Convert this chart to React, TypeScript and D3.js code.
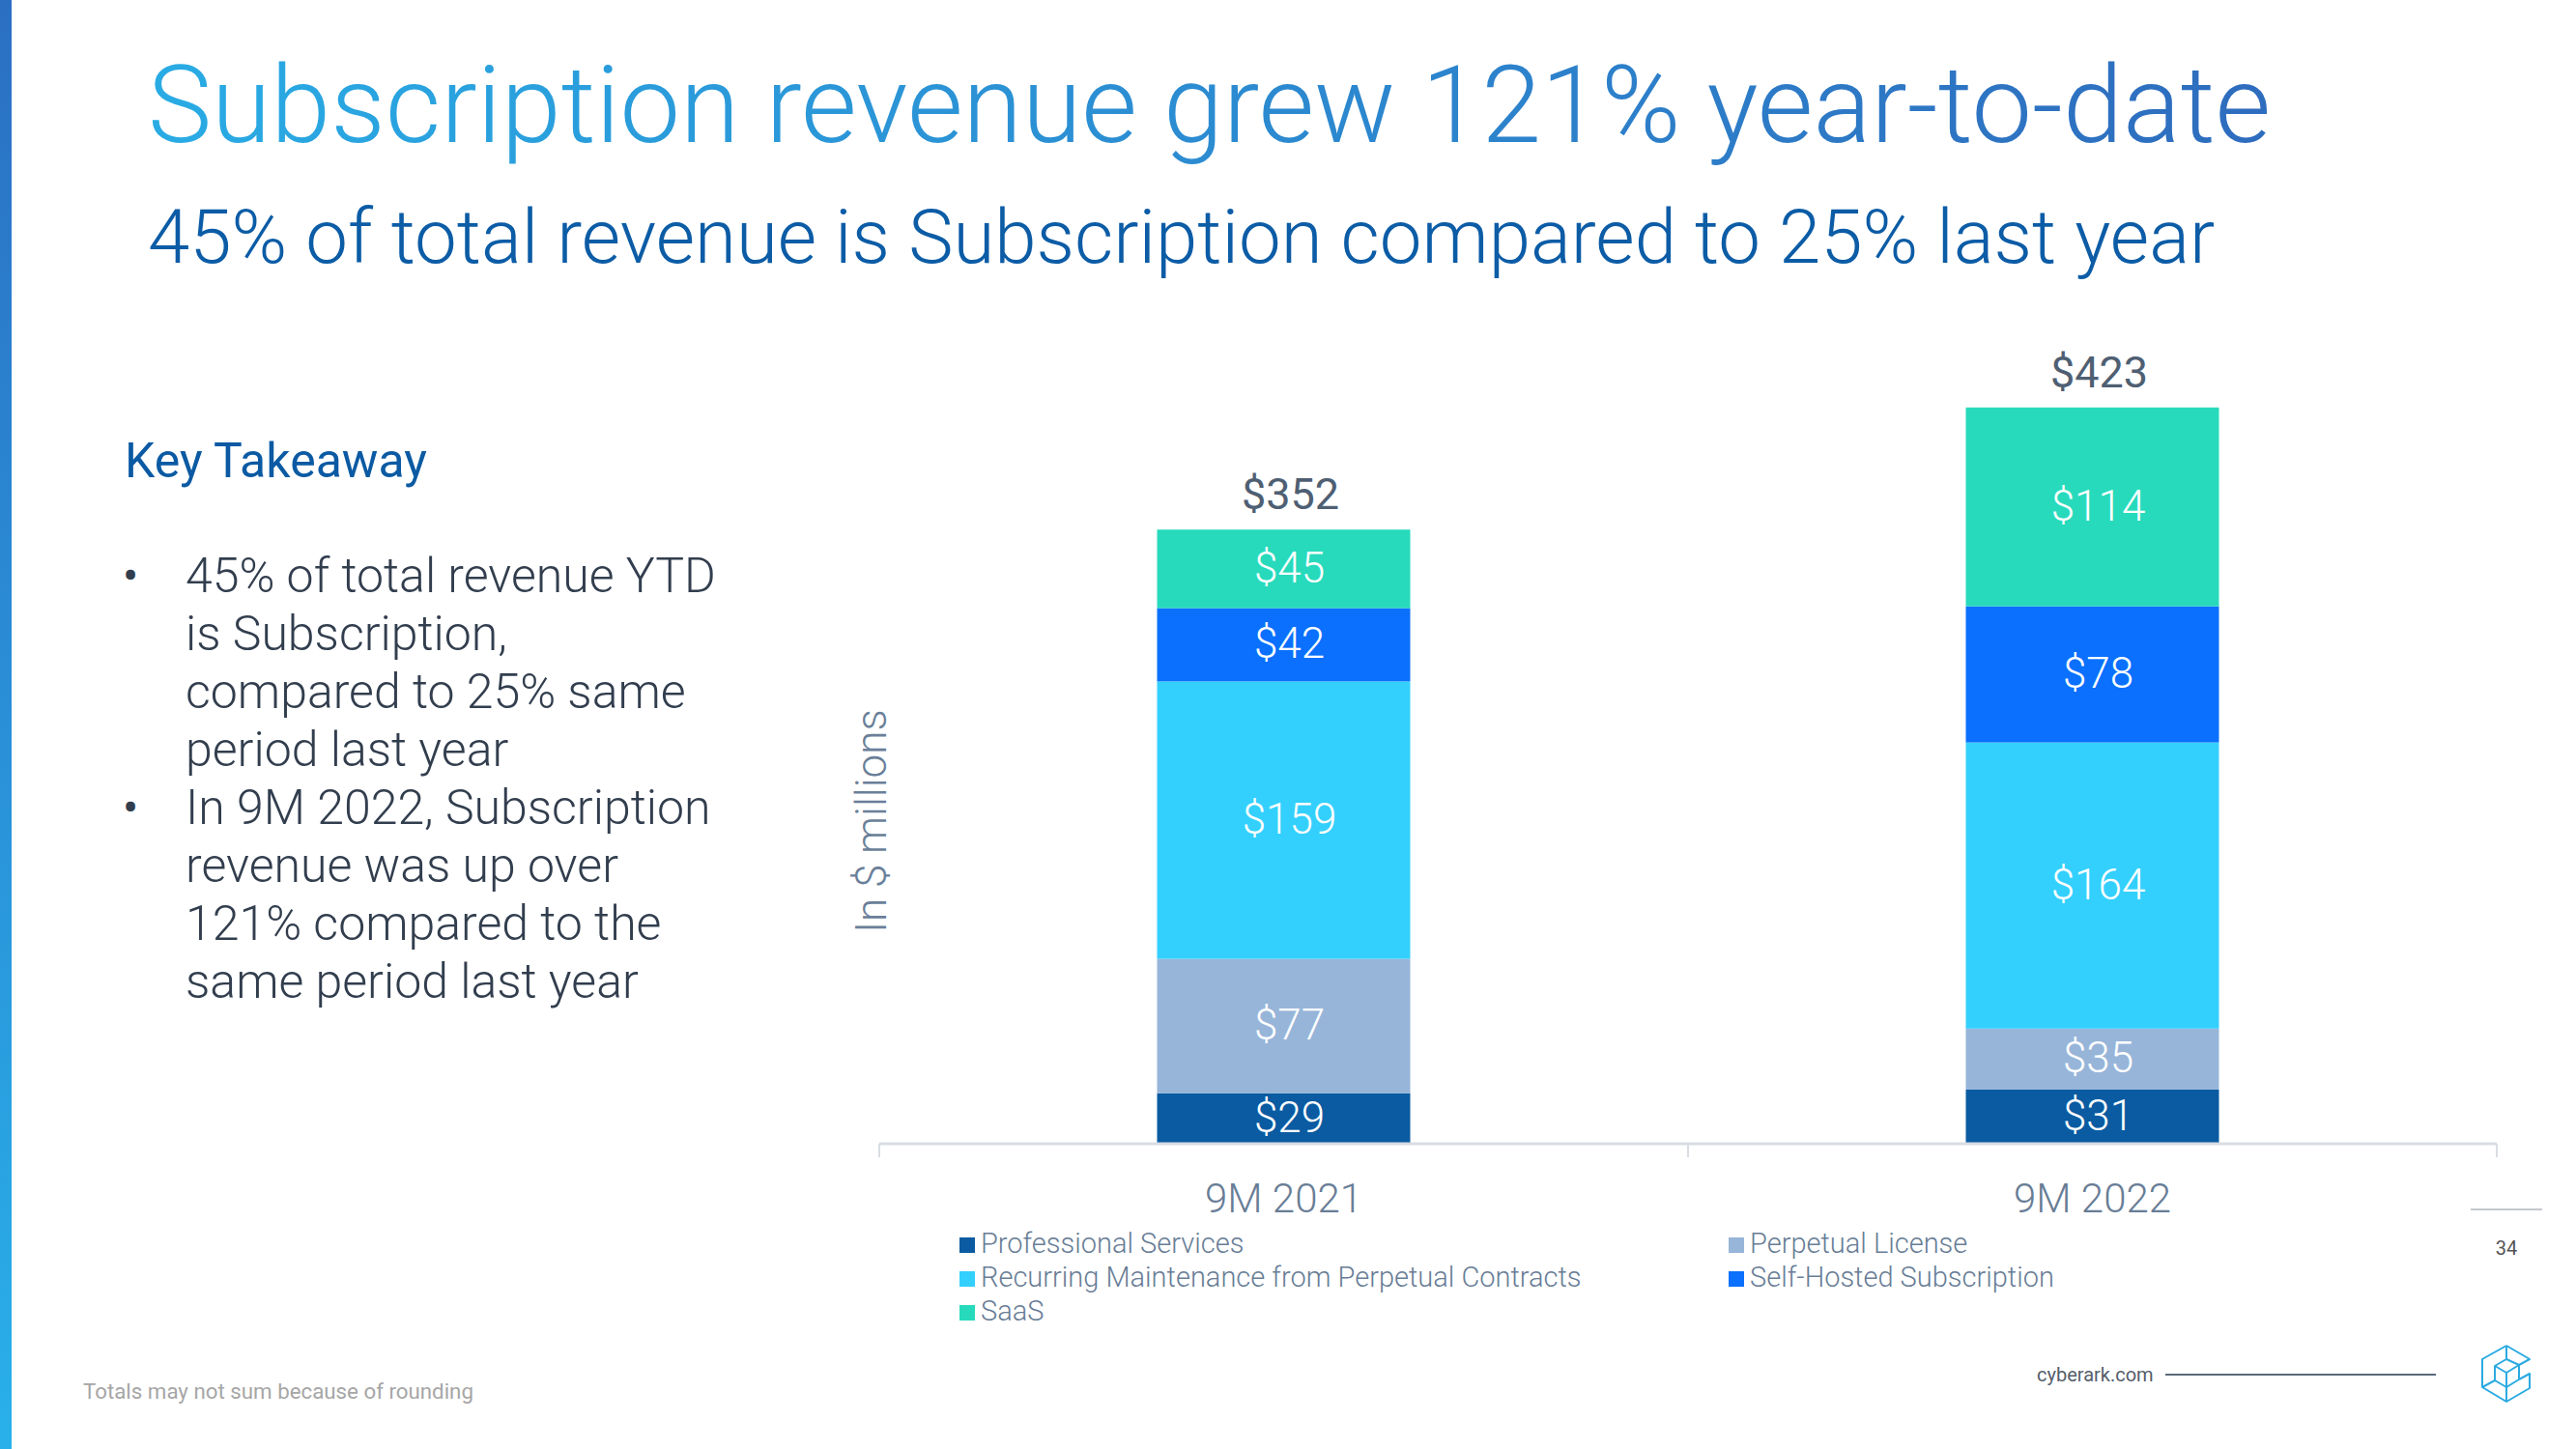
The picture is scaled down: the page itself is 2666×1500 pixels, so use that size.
import { useEffect, useRef } from "react";
import * as d3 from "d3";

const categories = ["9M 2021", "9M 2022"];
const seriesKeys = ["pro", "perp", "maint", "self", "saas"];
const seriesNames = [
  "Professional Services",
  "Perpetual License",
  "Recurring Maintenance from Perpetual Contracts",
  "Self-Hosted Subscription",
  "SaaS",
];
const seriesColors = ["#0a5ba1", "#97b5d9", "#33d0fd", "#0a70fd", "#27dabc"];
const professionalServices = [29, 31];
const perpetualLicense = [77, 35];
const recurringMaintenance = [159, 164];
const selfHostedSubscription = [42, 78];
const saas = [45, 114];
const totals = [352, 423];

const title = "Subscription revenue grew 121% year-to-date";
const subtitle = "45% of total revenue is Subscription compared to 25% last year";
const takeawayTitle = "Key Takeaway";
const bullets = [
  ["45% of total revenue YTD", "is Subscription,", "compared to 25% same", "period last year"],
  ["In 9M 2022, Subscription", "revenue was up over", "121% compared to the", "same period last year"],
];

const W = 2666;
const H = 1500;
const FONT = "Roboto, 'Noto Sans', sans-serif";

export default function App() {
  const ref = useRef<SVGSVGElement | null>(null);

  useEffect(() => {
    document.body.style.margin = "0";
    const svg = d3.select(ref.current);
    svg.selectAll("*").remove();
    svg.attr("width", W).attr("height", H).attr("viewBox", `0 0 ${W} ${H}`);

    const defs = svg.append("defs");
    const strip = defs
      .append("linearGradient")
      .attr("id", "strip")
      .attr("x1", 0)
      .attr("y1", 0)
      .attr("x2", 0)
      .attr("y2", 1);
    strip.append("stop").attr("offset", 0).attr("stop-color", "#2b6fc3");
    strip.append("stop").attr("offset", 1).attr("stop-color", "#29b0ea");

    const tg = defs
      .append("linearGradient")
      .attr("id", "titleGrad")
      .attr("gradientUnits", "userSpaceOnUse")
      .attr("x1", 155)
      .attr("y1", 0)
      .attr("x2", 2350)
      .attr("y2", 0);
    tg.append("stop").attr("offset", 0).attr("stop-color", "#29abe4");
    tg.append("stop").attr("offset", 1).attr("stop-color", "#2e6cbe");

    svg.append("rect").attr("width", W).attr("height", H).attr("fill", "#fff");
    svg.append("rect").attr("width", 12).attr("height", H).attr("fill", "url(#strip)");

    // Headings
    svg
      .append("text")
      .attr("x", 153)
      .attr("y", 147)
      .attr("font-family", FONT)
      .attr("font-weight", 300)
      .attr("font-size", 111.5)
      .attr("fill", "url(#titleGrad)")
      .text(title);

    svg
      .append("text")
      .attr("x", 153)
      .attr("y", 272)
      .attr("font-family", FONT)
      .attr("font-weight", 300)
      .attr("font-size", 78)
      .attr("fill", "#0c5ca6")
      .text(subtitle);

    // Left panel
    svg
      .append("text")
      .attr("x", 129)
      .attr("y", 494)
      .attr("font-family", FONT)
      .attr("font-weight", 400)
      .attr("font-size", 50)
      .attr("fill", "#0b5aa3")
      .text(takeawayTitle);

    let line = 0;
    bullets.forEach((b) => {
      b.forEach((t, j) => {
        const yy = 613 + line * 60;
        if (j === 0) {
          svg
            .append("text")
            .attr("x", 127)
            .attr("y", yy)
            .attr("font-family", FONT)
            .attr("font-size", 48)
            .attr("fill", "#323e4e")
            .text("•");
        }
        svg
          .append("text")
          .attr("x", 192)
          .attr("y", yy)
          .attr("font-family", FONT)
          .attr("font-weight", 300)
          .attr("font-size", 50)
          .attr("fill", "#323e4e")
          .text(t);
        line++;
      });
    });

    // Chart
    const axisY = 1184;
    const x = d3
      .scaleBand<string>()
      .domain(categories)
      .range([910, 2584])
      .paddingInner(0)
      .paddingOuter(0);
    const barW = x.bandwidth() * 0.313;
    const y = d3
      .scaleLinear()
      .domain([0, d3.max(totals) as number])
      .range([axisY, 420]);

    const rows = categories.map((c, i) => ({
      cat: c,
      pro: professionalServices[i],
      perp: perpetualLicense[i],
      maint: recurringMaintenance[i],
      self: selfHostedSubscription[i],
      saas: saas[i],
    }));
    const stacked = d3.stack<any>().keys(seriesKeys)(rows);

    const g = svg.append("g");
    stacked.forEach((layer, li) => {
      layer.forEach((d) => {
        const cx = (x(d.data.cat) as number) + x.bandwidth() / 2;
        g.append("rect")
          .attr("x", cx - barW / 2)
          .attr("y", y(d[1]))
          .attr("width", barW)
          .attr("height", y(d[0]) - y(d[1]))
          .attr("fill", seriesColors[li]);
        g.append("text")
          .attr("x", cx + 6)
          .attr("y", (y(d[0]) + y(d[1])) / 2 + 14)
          .attr("text-anchor", "middle")
          .attr("font-family", FONT)
          .attr("font-weight", 300)
          .attr("font-size", 44)
          .attr("fill", "#fff")
          .text(`$${d[1] - d[0]}`);
      });
    });

    const top = stacked[stacked.length - 1];
    categories.forEach((c, i) => {
      const cx = (x(c) as number) + x.bandwidth() / 2;
      g.append("text")
        .attr("x", cx + 7)
        .attr("y", y(top[i][1]) - 21)
        .attr("text-anchor", "middle")
        .attr("font-family", FONT)
        .attr("font-weight", 400)
        .attr("font-size", 45)
        .attr("fill", "#4f5f73")
        .text(`$${totals[i]}`);
    });

    // Axis
    const ax = g.append("g").attr("transform", `translate(0,${axisY})`);
    ax.append("line")
      .attr("x1", 910)
      .attr("x2", 2584)
      .attr("stroke", "#d9dde3")
      .attr("stroke-width", 3);
    const tickXs = [...categories.map((c) => x(c) as number), 2584];
    tickXs.forEach((tx) => {
      ax.append("line")
        .attr("x1", tx)
        .attr("x2", tx)
        .attr("y1", 0)
        .attr("y2", 14)
        .attr("stroke", "#d9dde3")
        .attr("stroke-width", 2);
    });
    categories.forEach((c) => {
      ax.append("text")
        .attr("x", (x(c) as number) + x.bandwidth() / 2)
        .attr("y", 71)
        .attr("text-anchor", "middle")
        .attr("font-family", FONT)
        .attr("font-weight", 300)
        .attr("font-size", 42)
        .attr("fill", "#687d96")
        .text(c);
    });

    g.append("text")
      .attr("transform", `translate(917,850) rotate(-90)`)
      .attr("text-anchor", "middle")
      .attr("font-family", FONT)
      .attr("font-weight", 300)
      .attr("font-size", 44)
      .attr("fill", "#6a7f99")
      .text("In $ millions");

    // Legend
    const legendCols = [993, 1789];
    seriesNames.forEach((n, i) => {
      const lx = legendCols[i % 2];
      const ly = 1297 + Math.floor(i / 2) * 35;
      const row = g.append("g").attr("transform", `translate(${lx},${ly})`);
      row
        .append("rect")
        .attr("x", 0)
        .attr("y", -16)
        .attr("width", 16)
        .attr("height", 16)
        .attr("fill", seriesColors[i]);
      row
        .append("text")
        .attr("x", 22)
        .attr("y", 0)
        .attr("font-family", FONT)
        .attr("font-weight", 300)
        .attr("font-size", 29)
        .attr("fill", "#687d96")
        .text(n);
    });

    // Footer
    svg
      .append("text")
      .attr("x", 86)
      .attr("y", 1448)
      .attr("font-family", FONT)
      .attr("font-size", 22.3)
      .attr("fill", "#a6a6a6")
      .text("Totals may not sum because of rounding");

    svg
      .append("line")
      .attr("x1", 2557)
      .attr("x2", 2631)
      .attr("y1", 1252)
      .attr("y2", 1252)
      .attr("stroke", "#8a8f96")
      .attr("stroke-width", 1);
    svg
      .append("text")
      .attr("x", 2594)
      .attr("y", 1299)
      .attr("text-anchor", "middle")
      .attr("font-family", FONT)
      .attr("font-size", 20)
      .attr("fill", "#555")
      .text("34");

    svg
      .append("text")
      .attr("x", 2108)
      .attr("y", 1430)
      .attr("font-family", FONT)
      .attr("font-size", 20)
      .attr("fill", "#555e6a")
      .text("cyberark.com");
    svg
      .append("line")
      .attr("x1", 2241)
      .attr("x2", 2521)
      .attr("y1", 1423)
      .attr("y2", 1423)
      .attr("stroke", "#5a6b7c")
      .attr("stroke-width", 2);

    // Logo
    const logo = svg
      .append("g")
      .attr("transform", "translate(2555,1380)")
      .attr("fill", "none")
      .attr("stroke", "#2aaae2")
      .attr("stroke-width", 2)
      .attr("stroke-linejoin", "round");
    [
      "M39,13 L14,27 L14,56 L39,71 L63,57 L63,42 L52,48",
      "M39,13 L63,27 L52,33 L52,48",
      "M39,13 L39,27 L27,34 L27,49 L39,56 L52,48",
      "M39,27 L52,33",
      "M27,34 L39,41 L52,33",
      "M39,41 L39,56",
      "M14,56 L27,49",
      "M39,71 L39,56",
    ].forEach((p) => logo.append("path").attr("d", p));
  }, []);

  return <svg ref={ref} style={{ display: "block" }} />;
}
